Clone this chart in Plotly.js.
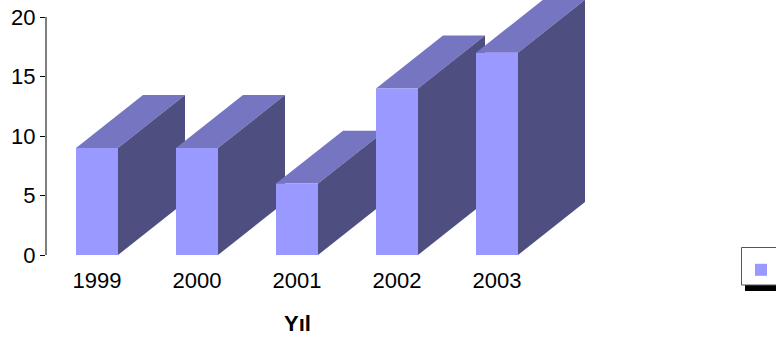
<!DOCTYPE html>
<html>
<head>
<meta charset="utf-8">
<script src="https://cdn.plot.ly/plotly-3.0.1.min.js"></script>
<style>html,body{margin:0;padding:0;background:#fff;}#chart{width:776px;height:343px;}</style>
</head>
<body>
<div id="chart"></div>
<script>
// Data
const years = ['1999', '2000', '2001', '2002', '2003'];
const values = [9, 9, 6, 14, 17];
const seriesName = 'Sayı';
const yTicks = [0, 5, 10, 15, 20];
const xTitle = 'Yıl';

// Styling / geometry of the 3-D look
const FRONT = '#9999ff', TOP = '#7575c2', SIDE = '#4e4e80';
const HALF = 0.21;          // half bar width (category units)
const DX = 0.67;            // depth offset in x (category units)
const DY = 4.45;            // depth offset in y (value units)
const FONT = 'Liberation Sans, Arial, Helvetica, sans-serif';

const idx = years.map((_, i) => i);

const shapes = [];
idx.forEach(i => {
  const v = values[i];
  const l = i - HALF, r = i + HALF;
  // top face
  shapes.push({
    type: 'path', xref: 'x', yref: 'y', layer: 'below',
    path: `M${l},${v} L${r},${v} L${r + DX},${v + DY} L${l + DX},${v + DY} Z`,
    fillcolor: TOP, line: {width: 0}
  });
  // side face
  shapes.push({
    type: 'path', xref: 'x', yref: 'y', layer: 'below',
    path: `M${r},0 L${r + DX},${DY} L${r + DX},${v + DY} L${r},${v} Z`,
    fillcolor: SIDE, line: {width: 0}
  });
});
// y axis line (only from 0 to 20)
shapes.push({type: 'line', xref: 'paper', yref: 'y', x0: 0, x1: 0, y0: 0, y1: 20,
  line: {color: '#000', width: 1}});
// legend box and shadow
shapes.push({type: 'rect', xref: 'paper', yref: 'paper',
  x0: (745 - 46) / 554, x1: 1.5, y0: (255 - 291) / 255, y1: (255 - 250) / 255,
  fillcolor: '#000', line: {width: 0}});
shapes.push({type: 'rect', xref: 'paper', yref: 'paper',
  x0: (741.5 - 46) / 554, x1: 1.5, y0: (255 - 285) / 255, y1: (255 - 247.5) / 255,
  fillcolor: '#fff', line: {color: '#555', width: 1}});

const data = [{
  type: 'bar',
  x: idx,
  y: values,
  width: 0.42,
  name: seriesName,
  marker: {color: FRONT, line: {width: 0}},
  showlegend: true,
  hoverinfo: 'x+y'
}];

const layout = {
  width: 776, height: 343,
  margin: {l: 46, r: 176, t: 0, b: 88, pad: 0, autoexpand: false},
  paper_bgcolor: '#fff', plot_bgcolor: 'rgba(0,0,0,0)',
  font: {family: FONT, size: 22, color: '#000'},
  showlegend: true,
  xaxis: {
    range: [-0.51, 5.03],
    tickvals: idx, ticktext: years,
    showline: false, showgrid: false, zeroline: false,
    ticks: '', ticklabelstandoff: 10, automargin: false,
    tickfont: {family: FONT, size: 22, color: '#000'},
    fixedrange: true
  },
  yaxis: {
    range: [0, 21.43],
    tickvals: yTicks,
    showline: false, showgrid: false, zeroline: false,
    ticks: 'outside', ticklen: 5, tickwidth: 1, tickcolor: '#000', automargin: false,
    tickfont: {family: FONT, size: 22, color: '#000'},
    fixedrange: true
  },
  legend: {
    x: (741 - 46) / 554, xanchor: 'left',
    y: (255 - 249) / 255, yanchor: 'top',
    bgcolor: 'rgba(0,0,0,0)', borderwidth: 0,
    font: {family: FONT, size: 22, color: '#000'}
  },
  shapes: shapes,
  annotations: [{
    xref: 'x', yref: 'paper', x: 2, y: (255 - 323) / 255,
    xanchor: 'center', yanchor: 'middle', showarrow: false,
    text: '<b>' + xTitle + '</b>',
    font: {family: FONT, size: 22, color: '#000'}
  }]
};

Plotly.newPlot('chart', data, layout, {displayModeBar: false, staticPlot: true});
</script>
</body>
</html>
